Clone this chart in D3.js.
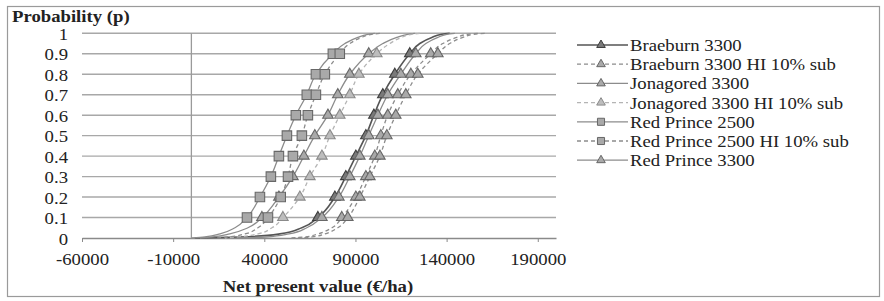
<!DOCTYPE html>
<html><head><meta charset="utf-8">
<script src="https://cdn.jsdelivr.net/npm/d3@7/dist/d3.min.js"></script>
<style>body{margin:0;background:#fff}svg{display:block}text{font-family:"Liberation Serif","Times New Roman",serif;fill:#222}</style>
</head><body><svg id="c" width="884" height="301"></svg>
<script>
// ---- data ----
const probLevels = [0.1,0.2,0.3,0.4,0.5,0.6,0.7,0.8,0.9];
const lowTailP = [0,0.005,0.02,0.05];
const highTailP = [0.95,0.98,0.995,1];
const yTicks = [0,0.1,0.2,0.3,0.4,0.5,0.6,0.7,0.8,0.9,1];
const xTicks = [-60000,-10000,40000,90000,140000,190000];

const braeburn3300      = [69400,78700,84700,90200,95700,100100,105000,111600,119800];
const braeburn3300Low   = [1900,26600,48500,60600];
const braeburn3300High  = [125300,131900,137400,141700];
const braeburnHI        = [82500,90200,95700,100600,103900,107700,113200,120400,131300];
const braeburnHILow     = [54000,62200,69400,77100];
const braeburnHIHigh    = [137900,145600,151600,157100];
const jonagored3300     = [38700,48000,55700,61700,67700,74900,80300,86900,97300];
const jonagored3300Low  = [4700,11800,21100,31000];
const jonagored3300High = [105000,112700,118700,122600];
const jonagoredHI       = [50200,59500,65000,71600,76000,81400,86900,91900,101700];
const jonagoredHILow    = [18400,25500,36500,44200];
const jonagoredHIHigh   = [108800,115400,120900,125300];
const redPrince2500     = [30500,37600,43600,48000,52400,57300,63300,68300,77600];
const redPrince2500Low  = [300,7400,15700,23900];
const redPrince2500High = [84200,91300,96800,100600];
const redPrince2500HI   = [42000,49000,53000,55700,60600,63900,68300,73200,81400];
const redPrince2500HILow  = [12900,20000,29400,36500];
const redPrince2500HIHigh = [86900,93500,99000,103400];
const redPrince3300     = [71600,80900,86900,92400,97300,102300,107700,114900,123100];
const redPrince3300Low  = [26100,40900,53500,63300];
const redPrince3300High = [128600,135200,140100,144500];
const redPrince3300HI   = [85800,92400,97900,103400,107200,112100,117600,124200,135200];
const redPrince3300HILow  = [58400,66100,73200,80300];
const redPrince3300HIHigh = [141700,148900,154900,160900];

const seriesNames = ["Braeburn 3300","Braeburn 3300 HI 10% sub","Jonagored 3300","Jonagored 3300 HI 10% sub","Red Prince 2500","Red Prince 2500 HI 10% sub","Red Prince 3300"];

// ---- build series ----
const series = [
 {name:seriesNames[0], mid:braeburn3300, low:braeburn3300Low, high:braeburn3300High, dash:false, shape:"tri", dark:true, legend:true},
 {name:seriesNames[1], mid:braeburnHI, low:braeburnHILow, high:braeburnHIHigh, dash:true, shape:"tri", legend:true},
 {name:seriesNames[2], mid:jonagored3300, low:jonagored3300Low, high:jonagored3300High, dash:false, shape:"tri", legend:true},
 {name:seriesNames[3], mid:jonagoredHI, low:jonagoredHILow, high:jonagoredHIHigh, dash:true, shape:"tri", light:true, legend:true},
 {name:seriesNames[4], mid:redPrince2500, low:redPrince2500Low, high:redPrince2500High, dash:false, shape:"sq", legend:true},
 {name:seriesNames[5], mid:redPrince2500HI, low:redPrince2500HILow, high:redPrince2500HIHigh, dash:true, shape:"sq", legend:true},
 {name:seriesNames[6], mid:redPrince3300, low:redPrince3300Low, high:redPrince3300High, dash:false, shape:"tri", legend:true},
 {name:"Red Prince 3300 HI 10% sub", mid:redPrince3300HI, low:redPrince3300HILow, high:redPrince3300HIHigh, dash:true, shape:"tri", legend:false}
];

const svg = d3.select("#c");
const SX = 1.17; // horizontal stretch of the original text
svg.append("rect").attr("x",7.5).attr("y",6.5).attr("width",872).attr("height",290)
  .attr("fill","#fff").attr("stroke","#9a9a9a").attr("stroke-width",1.2);

const x = d3.scaleLinear().domain([-60000,200000]).range([82,556]);
const y = d3.scaleLinear().domain([0,1]).range([238,33.3]);

// gridlines
svg.append("g").selectAll("line").data(yTicks.slice(1)).join("line")
  .attr("x1",x(-60000)).attr("x2",x(200000)).attr("y1",d=>y(d)).attr("y2",d=>y(d))
  .attr("stroke","#a8a8a8").attr("stroke-width",1.4);
// vertical axis at 0
svg.append("line").attr("x1",x(0)).attr("x2",x(0)).attr("y1",y(1)).attr("y2",y(0))
  .attr("stroke","#9a9a9a").attr("stroke-width",1.3);

// x axis
const xa = svg.append("g").attr("transform",`translate(0,${y(0)})`)
  .call(d3.axisBottom(x).tickValues(xTicks).tickSize(4).tickSizeOuter(0).tickFormat(d=>String(d)));
xa.select(".domain").attr("stroke","#8a8a8a").attr("stroke-width",1.4);
xa.selectAll(".tick line").attr("stroke","#8a8a8a");
xa.selectAll(".tick text").attr("y",13).attr("dy","0.9em").attr("font-size",16)
  .attr("fill","#333").attr("transform",`scale(${SX},1)`)
  .style("font-family",'"Liberation Serif",serif');

// y labels
svg.append("g").selectAll("text").data(yTicks).join("text")
  .attr("transform",d=>`translate(68,${y(d)+6.5}) scale(${SX},1)`)
  .attr("text-anchor","end").attr("font-size",16).attr("fill","#333")
  .text(d=>String(d));

// titles
svg.append("text").attr("transform",`translate(12,21.5) scale(${SX},1)`)
  .attr("font-size",16).attr("font-weight","bold").text("Probability (p)");
svg.append("text").attr("transform",`translate(318,292) scale(${SX},1)`)
  .attr("text-anchor","middle").attr("font-size",16).attr("font-weight","bold").text("Net present value (€/ha)");

// lines
const line = d3.line().x(d=>x(d[0])).y(d=>y(d[1])).curve(d3.curveMonotoneY);
function lineColor(s){return s.dark?"#555":(s.light?"#b4b4b4":"#8c8c8c");}
series.forEach(s=>{
  const pts = [];
  s.low.forEach((v,i)=>pts.push([v,lowTailP[i]]));
  s.mid.forEach((v,i)=>pts.push([v,probLevels[i]]));
  s.high.forEach((v,i)=>pts.push([v,highTailP[i]]));
  pts.reverse();
  svg.append("path").datum(pts).attr("d",line).attr("fill","none")
    .attr("stroke",lineColor(s)).attr("stroke-width",s.dark?1.6:1.3)
    .attr("stroke-dasharray",s.dash?"4,3":null);
});

// markers
const tri = d3.symbol(d3.symbolTriangle,48);
const sq = d3.symbol(d3.symbolSquare,90);
function markerFill(s){return s.dark?"#7a7a7a":(s.light?"#bdbdbd":"#a9a9a9");}
function markerStroke(s){return s.dark?"#3d3d3d":(s.light?"#8a8a8a":"#676767");}
series.forEach(s=>{
  svg.append("g").selectAll("path").data(s.mid).join("path")
    .attr("transform",(d,i)=>`translate(${x(d)},${y(probLevels[i])})`)
    .attr("d",s.shape==="sq"?sq():tri())
    .attr("fill",markerFill(s)).attr("stroke",markerStroke(s)).attr("stroke-width",1.1);
});

// legend
const leg = svg.append("g");
series.filter(s=>s.legend).forEach((s,i)=>{
  const ly = 45 + i*19.2;
  leg.append("line").attr("x1",577).attr("x2",628).attr("y1",ly).attr("y2",ly)
    .attr("stroke",lineColor(s)).attr("stroke-width",s.dark?1.6:1.3)
    .attr("stroke-dasharray",s.dash?"4,3":null);
  leg.append("path").attr("transform",`translate(601,${ly})`)
    .attr("d",s.shape==="sq"?d3.symbol(d3.symbolSquare,50)():d3.symbol(d3.symbolTriangle,32)())
    .attr("fill",markerFill(s)).attr("stroke",markerStroke(s)).attr("stroke-width",1);
  leg.append("text").attr("transform",`translate(630,${ly+6}) scale(${SX},1)`)
    .attr("font-size",16).attr("fill","#333").text(s.name);
});
</script></body></html>
